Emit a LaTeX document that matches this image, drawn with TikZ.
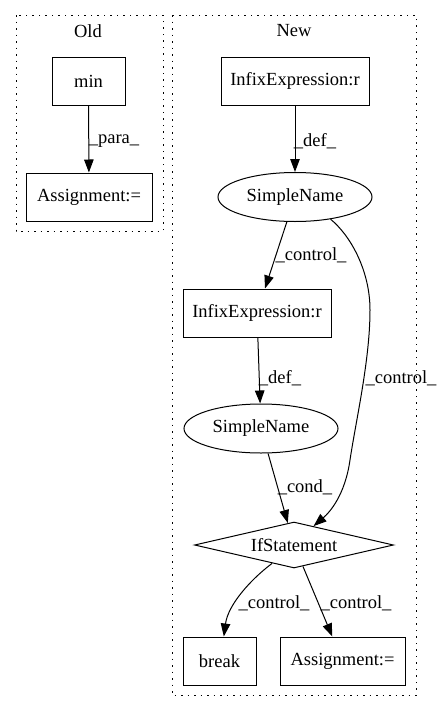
\documentclass[tikz,border=0pt]{standalone}
\usepackage{fontspec}
\setmainfont{Liberation Serif}
\usetikzlibrary{shapes.geometric,arrows.meta}
\newcommand{\gvfont}{\fontsize{18.5pt}{21pt}\selectfont}
\tikzset{
  box/.style={draw, line width=1pt, rectangle, inner sep=0pt, font=\gvfont},
  oval/.style={draw, line width=1pt, ellipse, inner sep=0pt, minimum width=154pt, minimum height=49pt, font=\gvfont},
  dia/.style={draw, line width=1pt, diamond, aspect=4.33, inner sep=0pt, minimum width=199pt, minimum height=46pt, font=\gvfont},
  lbl/.style={inner sep=0pt, font=\gvfont},
  edge/.style={line width=1pt, -{Triangle[length=13pt,width=9.5pt]}},
  cluster/.style={line width=1pt, dash pattern=on 1.5pt off 5pt}
}
\begin{document}
\begin{tikzpicture}[x=1pt,y=-1pt]
\useasboundingbox (0,0) rectangle (441,712);
% clusters
\draw[cluster] (16,15) rectangle (163,231);
\draw[cluster] (172,15) rectangle (416,695);
\node[lbl] (tOld) at (88,31) {Old};
\node[lbl] (tNew) at (294,31) {New};
% Old
\node[box, minimum width=73pt, minimum height=48pt] (min) at (88.5,81) {min};
\node[box, minimum width=126pt, minimum height=48pt] (asg1) at (89,197) {Assignment:=};
\draw[edge] (min) -- (asg1);
\node[lbl] (lpara) at (114,141) {\_para\_};
% New
\node[box, minimum width=148pt, minimum height=48pt] (inf1) at (295,81) {InfixExpression:r};
\node[oval] (sn1) at (295,197) {SimpleName};
\node[box, minimum width=148pt, minimum height=48pt] (inf2) at (257,313) {InfixExpression:r};
\node[oval] (sn2) at (261,428.5) {SimpleName};
\node[dia] (if) at (294,545) {IfStatement};
\node[box, minimum width=73pt, minimum height=48pt] (brk) at (219.5,661) {break};
\node[box, minimum width=125pt, minimum height=48pt] (asg2) at (342.5,661) {Assignment:=};
\draw[edge] (inf1) -- (sn1);
\node[lbl] (ldef1) at (315,141) {\_def\_};
\draw[edge] (sn1) -- (inf2);
\node[lbl] (lctl1) at (311,255) {\_control\_};
\draw[edge] (inf2) -- (sn2);
\node[lbl] (ldef2) at (280,378) {\_def\_};
\draw[edge] (sn2) -- (if);
\node[lbl] (lcond) at (305,487) {\_cond\_};
\draw[edge] (sn1.-32) .. controls (350,235) and (370,270) .. (370,310)
  .. controls (370,360) and (356,420) .. (350,460)
  .. controls (345,495) and (330,512) .. (if.44);
\node[lbl] (lctl2) at (401,378) {\_control\_};
\draw[edge] (if.220) .. controls (250,580) and (228,605) .. (brk.80);
\node[lbl] (lctl3) at (274,603) {\_control\_};
\draw[edge] (if) -- (asg2);
\node[lbl] (lctl4) at (356,603) {\_control\_};
\end{tikzpicture}
\end{document}
